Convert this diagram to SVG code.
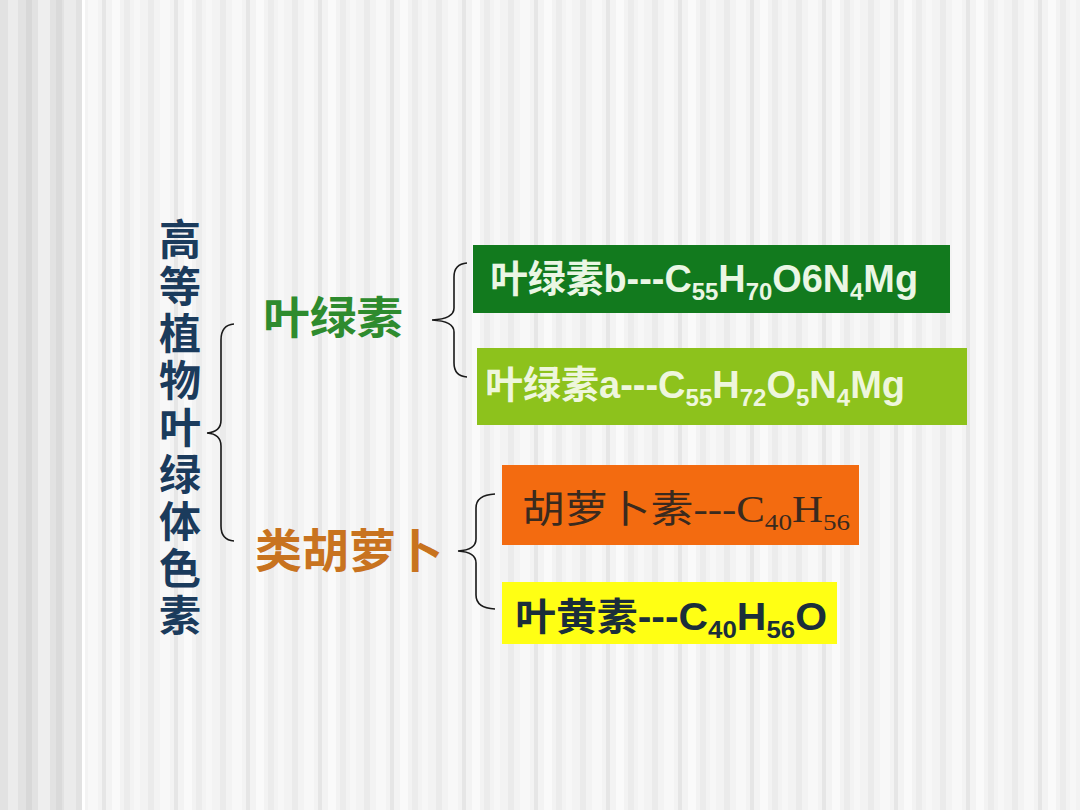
<svg xmlns="http://www.w3.org/2000/svg" width="1080" height="810" viewBox="0 0 1080 810">
<defs>
<pattern id="stripesL" width="84" height="810" patternUnits="userSpaceOnUse">
<rect width="84" height="810" fill="#e2e2e2"/>
<rect x="8" width="10" height="810" fill="#ececec"/>
<rect x="26" width="6" height="810" fill="#d8d8d8"/>
<rect x="38" width="12" height="810" fill="#eeeeee"/>
<rect x="56" width="6" height="810" fill="#dadada"/>
<rect x="64" width="12" height="810" fill="#ebebeb"/>
</pattern>
<pattern id="stripes" width="72" height="810" patternUnits="userSpaceOnUse">
<rect width="72" height="810" fill="#f3f3f3"/>
<rect x="4" width="6" height="810" fill="#ebebeb"/>
<rect x="16" width="10" height="810" fill="#f8f8f8"/>
<rect x="30" width="4" height="810" fill="#e6e6e6"/>
<rect x="40" width="8" height="810" fill="#fafafa"/>
<rect x="52" width="6" height="810" fill="#ececec"/>
<rect x="62" width="6" height="810" fill="#f7f7f7"/>
</pattern>
<style>
.brace{fill:none;stroke:#1a1a1a;stroke-width:1.6}
.cjk{font-family:"Liberation Sans","Noto Sans CJK SC",sans-serif;font-weight:bold}
.tt{font-family:"Noto Sans CJK SC",sans-serif;font-weight:bold;font-size:42px;fill:#1b3b5c;writing-mode:vertical-rl;letter-spacing:5px}
</style>
</defs>
<rect width="1080" height="810" fill="url(#stripes)"/>
<rect width="82" height="810" fill="url(#stripesL)"/>
<rect x="82" width="3" height="810" fill="#ffffff"/>

<g id="connectors">
<path class="brace" d="M234,324 Q221,325 221,340 L221,420 Q221,432 207,433 Q221,434 221,446 L221,526 Q221,540 234,541"/>
<path class="brace" d="M467,263 Q454,264 454,277 L454,308 Q454,319 432,320 Q454,321 454,332 L454,363 Q454,376 467,377"/>
<path class="brace" d="M495,494 Q476,495 476,508 L476,539 Q476,550 458,551 Q476,552 476,563 L476,595 Q476,608 495,609"/>
</g>

<g id="title">
<text class="tt" x="180" y="218">高等植物叶绿体色素</text>
</g>

<g id="chlorophyll">
<text class="cjk" x="263" y="334" font-size="44" fill="#2e8b2e" textLength="140" lengthAdjust="spacingAndGlyphs">叶绿素</text>
</g>
<g id="carotenoids">
<text class="cjk" x="255" y="567" font-size="46" fill="#c8731f" textLength="188" lengthAdjust="spacingAndGlyphs">类胡萝卜</text>
</g>

<g id="chl-b">
<rect x="473" y="245" width="477" height="68" fill="#127a1e"/>
<text class="cjk" x="490" y="292" font-size="38" fill="#eaf6e4" textLength="428" lengthAdjust="spacingAndGlyphs">叶绿素b---C<tspan font-size="24" dy="8">55</tspan><tspan dy="-8">H</tspan><tspan font-size="24" dy="8">70</tspan><tspan dy="-8">O6N</tspan><tspan font-size="24" dy="8">4</tspan><tspan dy="-8">Mg</tspan></text>
</g>
<g id="chl-a">
<rect x="477" y="348" width="490" height="77" fill="#8dc21c"/>
<text class="cjk" x="485" y="398" font-size="38" fill="#eef6dc" textLength="420" lengthAdjust="spacingAndGlyphs">叶绿素a---C<tspan font-size="24" dy="8">55</tspan><tspan dy="-8">H</tspan><tspan font-size="24" dy="8">72</tspan><tspan dy="-8">O</tspan><tspan font-size="24" dy="8">5</tspan><tspan dy="-8">N</tspan><tspan font-size="24" dy="8">4</tspan><tspan dy="-8">Mg</tspan></text>
</g>
<g id="carotene">
<rect x="502" y="465" width="357" height="80" fill="#f36b10"/>
<text x="522" y="522" font-family="Liberation Serif, Noto Sans CJK SC, serif" font-size="38" fill="#3a2a1e" textLength="328" lengthAdjust="spacingAndGlyphs">胡萝卜素---C<tspan font-size="24" dy="8">40</tspan><tspan dy="-8">H</tspan><tspan font-size="24" dy="8">56</tspan></text>
</g>
<g id="xanthophyll">
<rect x="502" y="582" width="335" height="62" fill="#ffff14"/>
<text class="cjk" x="515" y="630" font-size="38" fill="#1b2e3a" textLength="312" lengthAdjust="spacingAndGlyphs">叶黄素---C<tspan font-size="24" dy="8">40</tspan><tspan dy="-8">H</tspan><tspan font-size="24" dy="8">56</tspan><tspan dy="-8">O</tspan></text>
</g>
</svg>
